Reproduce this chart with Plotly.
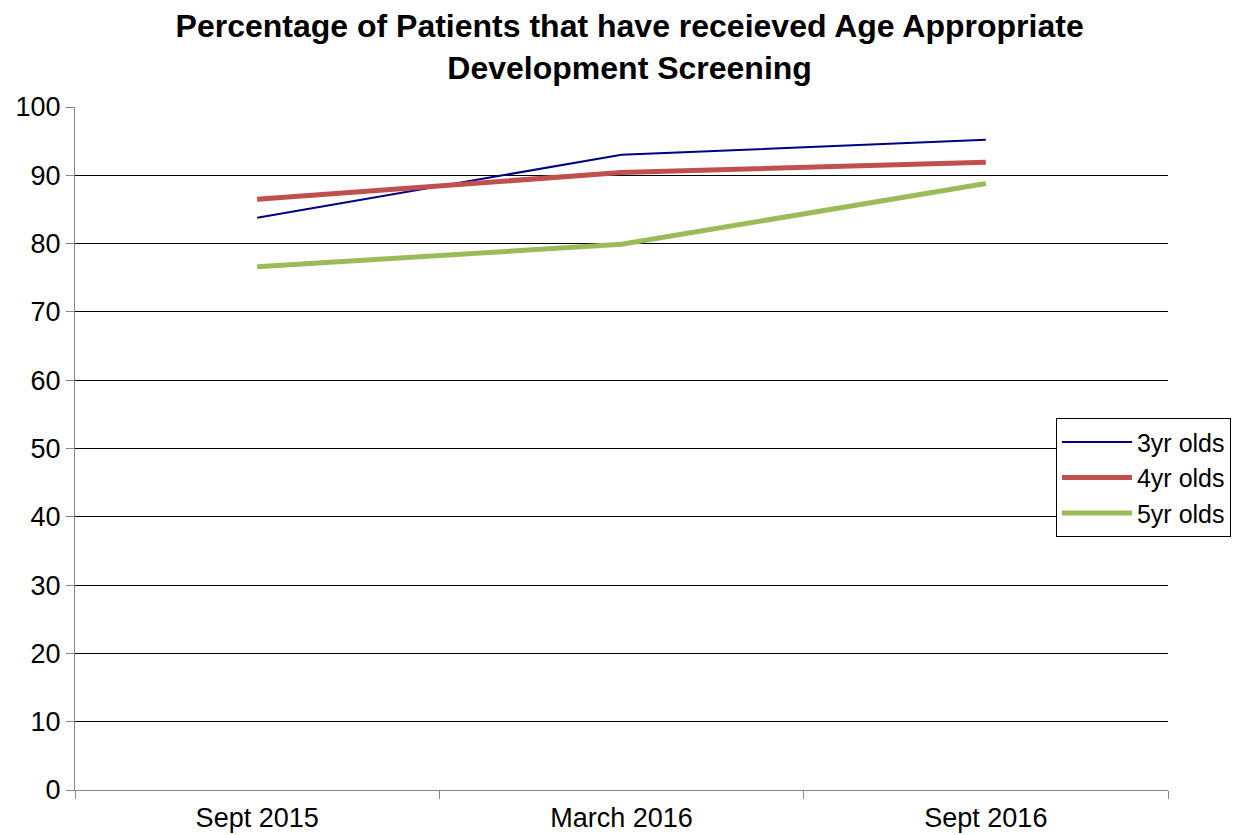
import plotly.graph_objects as go

categories = ["Sept 2015", "March 2016", "Sept 2016"]
yr3 = [83.8, 93.0, 95.2]
yr4 = [86.5, 90.4, 91.9]
yr5 = [76.6, 79.9, 88.8]

series = [
    ("3yr olds", yr3, "#000080", 2),
    ("4yr olds", yr4, "#C0504D", 5),
    ("5yr olds", yr5, "#9BBB59", 5),
]

fig = go.Figure()
for name, vals, color, w in series:
    fig.add_trace(go.Scatter(x=categories, y=vals, name=name, mode="lines",
                             line=dict(color=color, width=w)))

fig.update_layout(
    width=1247, height=835,
    paper_bgcolor="white", plot_bgcolor="white",
    font=dict(family="Liberation Sans, Arial, sans-serif", color="black", size=27),
    margin=dict(l=67, r=87, t=99, b=53, autoexpand=False),
    title=dict(text="<b>Percentage of Patients that have receieved Age Appropriate<br>Development Screening</b>",
               x=0.4985, xanchor="center", y=0.965, yanchor="top", yref="container",
               font=dict(size=32, family="Liberation Sans, Arial, sans-serif")),
    legend=dict(x=0.8975, xanchor="left", y=0.457, yanchor="middle",
                bordercolor="black", borderwidth=1, bgcolor="white",
                font=dict(size=25), tracegroupgap=0, itemwidth=70),
    showlegend=True,
)
fig.update_xaxes(type="category", range=[-0.5, 2.5], tickson="boundaries",
                 ticks="outside", ticklen=8, tickcolor="#868686",
                 ticklabelstandoff=4,
                 showline=True, linecolor="#868686", linewidth=1,
                 showgrid=False, zeroline=False)
fig.update_yaxes(range=[0, 100], dtick=10, ticks="outside", ticklen=8,
                 tickcolor="#868686", showline=True, linecolor="#868686", linewidth=1,
                 showgrid=True, gridcolor="#000000", gridwidth=1, zeroline=False)

fig.write_html("out.html")
